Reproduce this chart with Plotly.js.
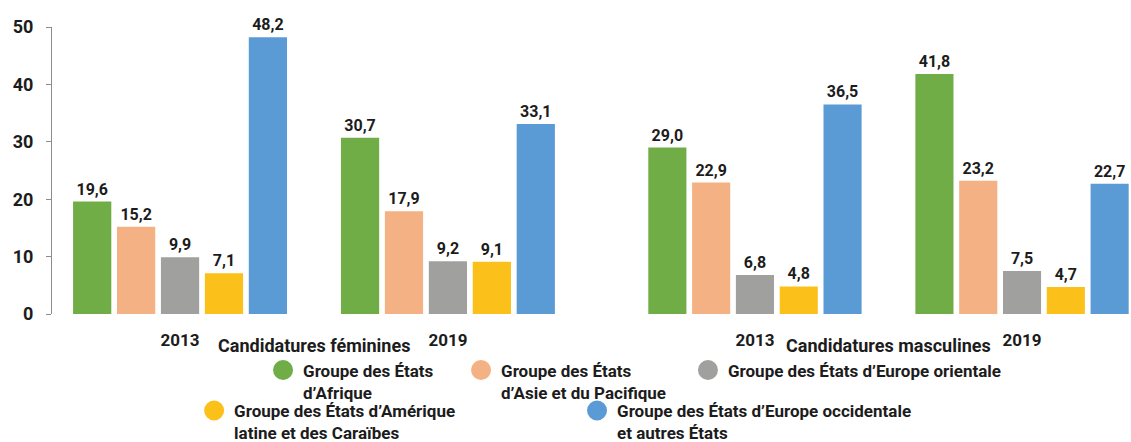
<!DOCTYPE html>
<html>
<head>
<meta charset="utf-8">
<script src="https://cdn.plot.ly/plotly-3.0.1.min.js"></script>
<style>html,body{margin:0;padding:0;background:#fff;}#chart{width:1131px;height:442px;}</style>
</head>
<body>
<div id="chart"></div>
<script>
const years = ["2013", "2019"];
const groupTitles = ["Candidatures féminines", "Candidatures masculines"];
const seriesNames = [
  "Groupe des États<br>d’Afrique",
  "Groupe des États<br>d’Asie et du Pacifique",
  "Groupe des États d’Europe orientale",
  "Groupe des États d’Amérique<br>latine et des Caraïbes",
  "Groupe des États d’Europe occidentale<br>et autres États"
];
const colors = ["#70AD47", "#F4B183", "#A0A09F", "#FBC11A", "#5B9BD5"];

const afriqueF = [19.6, 30.7];
const asieF = [15.2, 17.9];
const europeOrF = [9.9, 9.2];
const ameriqueF = [7.1, 9.1];
const europeOccF = [48.2, 33.1];

const afriqueM = [29.0, 41.8];
const asieM = [22.9, 23.2];
const europeOrM = [6.8, 7.5];
const ameriqueM = [4.8, 4.7];
const europeOccM = [36.5, 22.7];

const femValues = [afriqueF, asieF, europeOrF, ameriqueF, europeOccF];
const mascValues = [afriqueM, asieM, europeOrM, ameriqueM, europeOccM];

const FONT = "Roboto, 'Noto Sans', Arial, sans-serif";
const TXT = "#1c1c1c";

const traces = [];
[femValues, mascValues].forEach((vals, gi) => {
  vals.forEach((v, si) => {
    traces.push({
      type: "bar",
      x: years,
      y: v,
      xaxis: gi === 0 ? "x" : "x2",
      yaxis: "y",
      name: seriesNames[si],
      showlegend: false,
      marker: { color: colors[si], line: { width: 0 } },
      texttemplate: "%{y:.1f}",
      textposition: "outside",
      cliponaxis: false,
      textfont: { family: FONT, size: 16, color: TXT, weight: 700 },
      hoverinfo: "skip"
    });
  });
});

const legendIds = ["legend", "legend2", "legend3", "legend4", "legend5"];
seriesNames.forEach((n, si) => {
  traces.push({
    type: "scatter",
    mode: "markers",
    x: [null],
    y: [null],
    name: n,
    legend: legendIds[si],
    showlegend: true,
    marker: { color: colors[si], size: 16, symbol: "circle", line: { color: colors[si], width: 4 } },
    hoverinfo: "skip"
  });
});

// legend positions (paper coords)
const legPos = [
  [0.1956, -0.1341],
  [0.3791, -0.1341],
  [0.5894, -0.1341],
  [0.1317, -0.2752],
  [0.4866, -0.2752]
];
const legendFont = { family: FONT, size: 17, color: TXT, weight: 700 };

const layout = {
  width: 1131,
  height: 442,
  margin: { l: 52, r: 0, t: 27, b: 128, autoexpand: false },
  paper_bgcolor: "#fff",
  plot_bgcolor: "#fff",
  separators: ", ",
  barmode: "group",
  bargap: 0.18,
  bargroupgap: 0.13,
  font: { family: FONT, color: TXT, weight: 700 },
  xaxis: {
    domain: [0, 0.4856],
    anchor: "y",
    type: "category",
    range: [-0.478, 1.478],
    showline: false,
    showgrid: false,
    zeroline: false,
    ticks: "",
    ticklabelstandoff: 14,
    automargin: false,
    tickfont: { family: FONT, size: 17, color: TXT, weight: 700 }
  },
  xaxis2: {
    domain: [0.5505, 1],
    anchor: "y",
    type: "category",
    range: [-0.408, 1.408],
    showline: false,
    showgrid: false,
    zeroline: false,
    ticks: "",
    ticklabelstandoff: 14,
    automargin: false,
    tickfont: { family: FONT, size: 17, color: TXT, weight: 700 }
  },
  yaxis: {
    range: [0, 50],
    tickvals: [0, 10, 20, 30, 40, 50],
    showline: true,
    linecolor: "#8c8c8c",
    linewidth: 1,
    ticks: "outside",
    ticklen: 5,
    tickcolor: "#8c8c8c",
    showgrid: false,
    zeroline: false,
    automargin: false,
    ticklabelstandoff: 9,
    tickfont: { family: FONT, size: 18, color: TXT, weight: 700 }
  },
  annotations: groupTitles.map((t, i) => ({
    text: t,
    xref: i === 0 ? "x domain" : "x2 domain",
    x: 0.5,
    yref: "paper",
    y: (314 - 345) / 287,
    yanchor: "middle",
    xanchor: "center",
    showarrow: false,
    font: { family: FONT, size: 18, color: TXT, weight: 700 }
  })),
  showlegend: true
};

legendIds.forEach((id, i) => {
  layout[id] = {
    x: legPos[i][0],
    y: legPos[i][1],
    xanchor: "left",
    yanchor: "top",
    orientation: "h",
    bgcolor: "rgba(0,0,0,0)",
    borderwidth: 0,
    valign: "top",
    itemclick: false,
    itemdoubleclick: false,
    font: legendFont
  };
});

Plotly.newPlot("chart", traces, layout, { displayModeBar: false, staticPlot: true });
</script>
</body>
</html>
